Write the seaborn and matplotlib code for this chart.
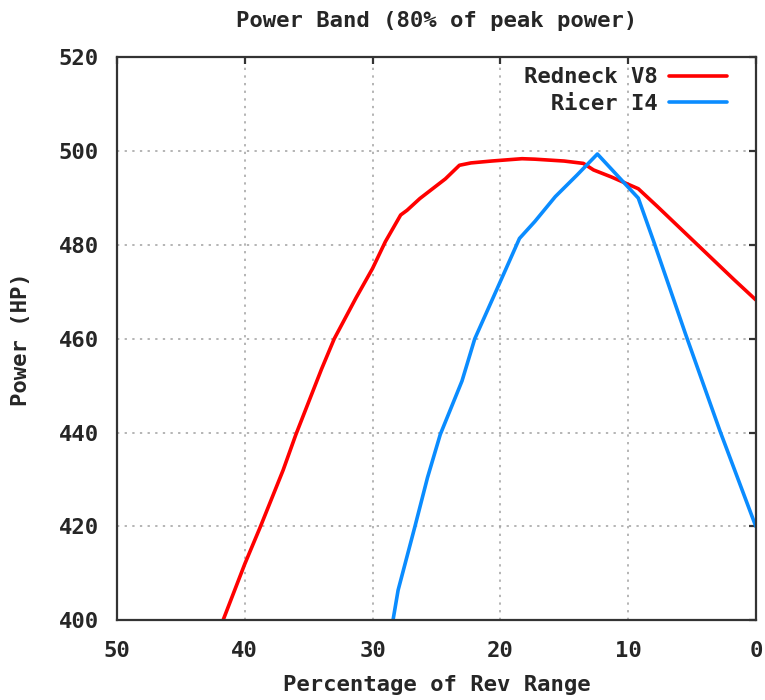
import pandas as pd
import matplotlib
matplotlib.use("Agg")
import matplotlib.pyplot as plt
import seaborn as sns

# Values (x = percentage of rev range, y = HP)
red_x = [41.7, 40, 38.8, 37, 36, 34, 33, 31.3, 30, 29, 27.8, 27.3, 26.3, 25.3, 24.3,
         23.2, 22.3, 20.7, 18.3, 17.3, 15, 13.5, 12.7, 11.3, 9.2, 7.7, 4.7, 1.7, 0]
red_y = [400, 412.0, 419.8, 432.0, 439.6, 453.5, 460, 468.7, 475, 480.7, 486.4, 487.4,
         489.9, 492, 494.1, 497, 497.5, 497.9, 498.4, 498.3, 497.9, 497.4, 496, 494.5,
         492, 488.2, 480.4, 472.6, 468.3]
blue_x = [28.4, 28, 26.7, 25.7, 24.7, 23, 22, 20, 18.5, 17.3, 15.7, 14, 12.4, 9.2, 8,
          5.5, 2.8, 0]
blue_y = [400, 406.4, 419.8, 430.4, 439.6, 451, 460, 472.2, 481.4, 485, 490.3, 494.9,
          499.4, 490, 480.8, 461, 440.3, 420]
series = ["Redneck V8", "Ricer I4"]
x_ticks = [50, 40, 30, 20, 10, 0]
y_ticks = [400, 420, 440, 460, 480, 500, 520]

df = pd.concat([
    pd.DataFrame({"pct": red_x, "hp": red_y, "engine": series[0]}),
    pd.DataFrame({"pct": blue_x, "hp": blue_y, "engine": series[1]}),
])

sns.set_style("white")
plt.rcParams["font.family"] = ["DejaVu Sans Mono"]
plt.rcParams["font.weight"] = "bold"
fs = 16

fig = plt.figure(figsize=(7.65, 7.0), dpi=100)
ax = fig.add_axes([0.153, 0.114, 0.835, 0.804])

sns.lineplot(data=df, x="pct", y="hp", hue="engine", hue_order=series,
             palette={series[0]: "#ff0000", series[1]: "#0a8cff"},
             linewidth=2.6, ax=ax)

ax.set_xlim(50, 0)
ax.set_ylim(400, 520)
ax.set_xticks(x_ticks)
ax.set_yticks(y_ticks)
ax.grid(True, color="#a0a0a0", linestyle=(0, (1.5, 3.5)), linewidth=1.1)
for s in ax.spines.values():
    s.set_color("#333333")
    s.set_linewidth(1.6)
ax.tick_params(direction="in", length=5, width=1.6, color="#333333",
               top=True, right=True, labelsize=fs)
ax.tick_params(axis="x", pad=15)
ax.tick_params(axis="y", pad=13)

ax.set_title("Power Band (80% of peak power)", fontsize=fs, fontweight="bold", pad=22)
ax.set_xlabel("Percentage of Rev Range", fontsize=fs, fontweight="bold", labelpad=10)
ax.set_ylabel("Power (HP)", fontsize=fs, fontweight="bold", labelpad=20)

handles, labels = ax.get_legend_handles_labels()
width = max(len(l) for l in labels)
ax.legend(handles, [l.rjust(width) for l in labels], loc="upper right",
          frameon=False, markerfirst=False, handlelength=2.6,
          labelspacing=0.3, borderaxespad=0.0, borderpad=0.2, handletextpad=0.5,
          bbox_to_anchor=(0.962, 0.99),
          prop={"family": "DejaVu Sans Mono", "weight": "bold", "size": fs})

fig.savefig("out.png", dpi=100)
